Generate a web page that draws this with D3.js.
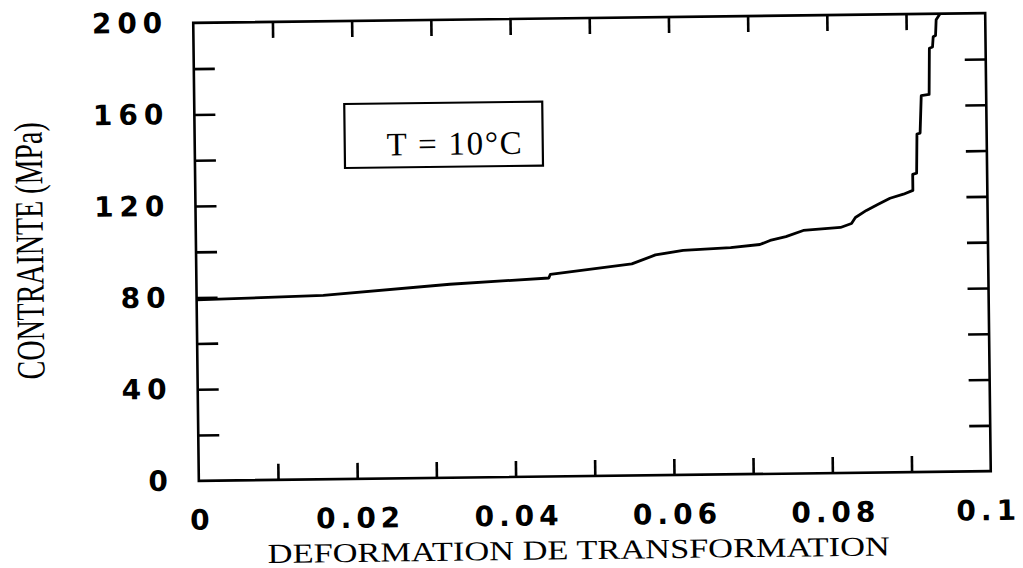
<!DOCTYPE html>
<html>
<head>
<meta charset="utf-8">
<script src="https://cdn.jsdelivr.net/npm/d3@7"></script>
<style>
  html, body { margin: 0; padding: 0; background: #fff; }
  svg { display: block; }
</style>
</head>
<body>
<div id="chart"></div>
<script>
/* ---------- data ---------- */
const strain = [0, 0.016, 0.032, 0.0445, 0.0447, 0.055, 0.058, 0.0615, 0.0675, 0.0712,
  0.0725, 0.0745, 0.0767, 0.0814, 0.0828, 0.0833, 0.0847, 0.0862, 0.0877, 0.0894,
  0.0906, 0.0906, 0.0911, 0.0912, 0.0916, 0.0918, 0.0928, 0.0929, 0.0933, 0.0934,
  0.0937, 0.0938, 0.0943];
const stress = [79, 80.3, 84.5, 86.7, 88.3, 92.4, 96.2, 98.0, 99.0, 100.2,
  101.9, 103.5, 106.1, 107.2, 108.9, 111.5, 114.5, 117.1, 119.7, 121.4,
  123.0, 130, 130.5, 147.6, 148, 164.3, 164.8, 185, 185.5, 190,
  190.5, 197.4, 200];

const xTickVals = [0, 0.02, 0.04, 0.06, 0.08, 0.1];
const xTickLabels = ['0', '0.02', '0.04', '0.06', '0.08', '0.1'];
const xMinorVals = [0.01, 0.02, 0.03, 0.04, 0.05, 0.06, 0.07, 0.08, 0.09];
const yTickVals = [0, 40, 80, 120, 160, 200];
const yTickLabels = ['0', '40', '80', '120', '160', '200'];
const yMinorVals = [20, 40, 60, 80, 100, 120, 140, 160, 180];

const xTitle = 'DEFORMATION DE TRANSFORMATION';
const yTitle = 'CONTRAINTE (MPa)';
const boxLabel = 'T = 10°C';

/* ---------- layout ---------- */
const W = 1023, H = 568;
const plot = { left: 196, right: 988, top: 18, bottom: 476 };

const svg = d3.select('#chart').append('svg')
  .attr('width', W)
  .attr('height', H);

// the scan is slightly rotated
const g = svg.append('g')
  .attr('transform', 'rotate(-0.7, 592, 247)');

const x = d3.scaleLinear().domain([0, 0.1]).range([plot.left, plot.right]);
const y = d3.scaleLinear().domain([0, 200]).range([plot.bottom, plot.top]);

const tickFont = 'DejaVu Sans, Verdana, sans-serif';
const serif = 'Liberation Serif, Times New Roman, serif';
const ls = 6;

/* ---------- minor ticks (inside, all four sides) ---------- */
function styleTicks(sel) {
  sel.select('.domain').remove();
  sel.selectAll('line').attr('stroke', '#000').attr('stroke-width', 2.6);
}

g.append('g')
  .attr('transform', `translate(0,${plot.bottom})`)
  .call(d3.axisBottom(x).tickValues(xMinorVals).tickSize(-16).tickFormat(''))
  .call(styleTicks);

g.append('g')
  .attr('transform', `translate(0,${plot.top})`)
  .call(d3.axisTop(x).tickValues(xMinorVals).tickSize(-16).tickFormat(''))
  .call(styleTicks);

g.append('g')
  .attr('transform', `translate(${plot.left},0)`)
  .call(d3.axisLeft(y).tickValues(yMinorVals).tickSize(-21).tickFormat(''))
  .call(styleTicks);

g.append('g')
  .attr('transform', `translate(${plot.right},0)`)
  .call(d3.axisRight(y).tickValues(yMinorVals).tickSize(-21).tickFormat(''))
  .call(styleTicks);

/* ---------- tick labels ---------- */
const xLab = g.append('g')
  .attr('transform', `translate(0,${plot.bottom})`)
  .call(d3.axisBottom(x).tickValues(xTickVals).tickSize(0).tickPadding(29)
    .tickFormat((d, i) => xTickLabels[i]));
xLab.select('.domain').remove();
xLab.selectAll('text')
  .attr('font-family', tickFont)
  .attr('font-weight', 'bold')
  .attr('font-size', 28)
  .attr('letter-spacing', 5)
  .attr('dx', (d, i) => (i === xTickVals.length - 1 ? -3 : 2.5))
  .attr('fill', '#000');

const yLab = g.append('g')
  .attr('transform', `translate(${plot.left},0)`)
  .call(d3.axisLeft(y).tickValues(yTickVals).tickSize(0).tickPadding(31)
    .tickFormat((d, i) => yTickLabels[i]));
yLab.select('.domain').remove();
yLab.selectAll('text')
  .attr('font-family', tickFont)
  .attr('font-weight', 'bold')
  .attr('font-size', 28)
  .attr('letter-spacing', ls)
  .attr('dx', ls)
  .attr('fill', '#000');

/* ---------- frame ---------- */
g.append('rect')
  .attr('x', plot.left)
  .attr('y', plot.top)
  .attr('width', plot.right - plot.left)
  .attr('height', plot.bottom - plot.top)
  .attr('fill', 'none')
  .attr('stroke', '#000')
  .attr('stroke-width', 2.6);

/* ---------- curve ---------- */
const pts = strain.map((s, i) => [s, stress[i]]);
const line = d3.line()
  .x(d => x(d[0]))
  .y(d => y(d[1]));

g.append('path')
  .datum(pts)
  .attr('fill', 'none')
  .attr('stroke', '#000')
  .attr('stroke-width', 2.8)
  .attr('stroke-linejoin', 'round')
  .attr('d', line);

/* ---------- legend box ---------- */
g.append('rect')
  .attr('x', 346)
  .attr('y', 101)
  .attr('width', 198)
  .attr('height', 64)
  .attr('fill', '#fff')
  .attr('stroke', '#000')
  .attr('stroke-width', 2.2);

g.append('text')
  .attr('x', 388)
  .attr('y', 153)
  .attr('font-family', serif)
  .attr('font-size', 33)
  .attr('textLength', 135)
  .attr('lengthAdjust', 'spacing')
  .text(boxLabel);

/* ---------- axis titles ---------- */
g.append('text')
  .attr('x', 575)
  .attr('y', 559)
  .attr('text-anchor', 'middle')
  .attr('font-family', serif)
  .attr('font-size', 27.5)
  .attr('textLength', 622)
  .attr('lengthAdjust', 'spacingAndGlyphs')
  .text(xTitle);

g.append('text')
  .attr('transform', 'translate(43,244) rotate(-90)')
  .attr('text-anchor', 'middle')
  .attr('font-family', serif)
  .attr('font-size', 40)
  .attr('textLength', 257)
  .attr('lengthAdjust', 'spacingAndGlyphs')
  .text(yTitle);
</script>
</body>
</html>
